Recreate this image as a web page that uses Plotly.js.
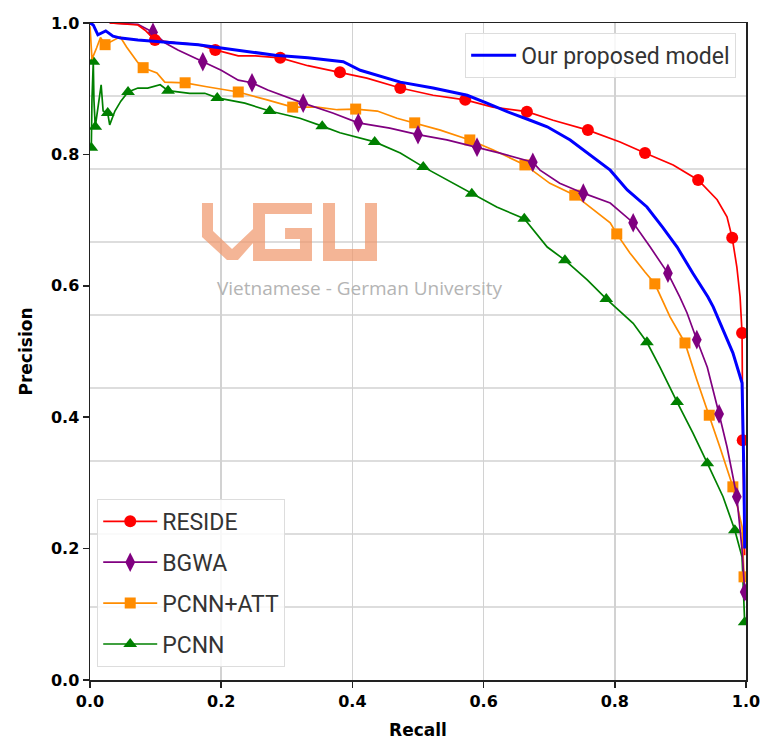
<!DOCTYPE html>
<html>
<head>
<meta charset="utf-8">
<script src="https://cdn.plot.ly/plotly-3.0.1.min.js"></script>
<style>html,body{margin:0;padding:0;background:#fff;}#chart{width:761px;height:740px;}</style>
</head>
<body>
<div id="chart"></div>
<script>
// ---------------- data ----------------
const tickVals = [0, 0.2, 0.4, 0.6, 0.8, 1.0];
const tickText = ["0.0", "0.2", "0.4", "0.6", "0.8", "1.0"];

// Our proposed model (blue, line only)
const oursRecall = [0,0.005,0.012,0.024,0.035,0.047,0.073,0.123,0.165,0.200,0.241,0.282,0.332,0.386,0.412,0.473,0.523,0.575,0.605,0.636,0.671,0.697,0.732,0.767,0.793,0.819,0.849,0.873,0.895,0.919,0.942,0.950,0.965,0.980,0.994,0.995,0.997,0.998];
const oursPrecision = [1.0,0.997,0.982,0.988,0.980,0.977,0.974,0.970,0.967,0.962,0.957,0.951,0.947,0.941,0.928,0.910,0.901,0.890,0.878,0.865,0.852,0.842,0.822,0.796,0.776,0.746,0.720,0.689,0.659,0.619,0.583,0.568,0.533,0.498,0.452,0.406,0.304,0.200];

// RESIDE (red, circles)
const resideRecall = [0.030,0.053,0.073,0.084,0.099,0.130,0.165,0.191,0.226,0.252,0.290,0.332,0.381,0.422,0.473,0.523,0.572,0.614,0.666,0.706,0.759,0.808,0.846,0.889,0.927,0.956,0.971,0.979,0.986,0.991,0.994,0.995,0.998];
const residePrecision = [1.0,0.998,0.997,0.989,0.974,0.970,0.967,0.959,0.950,0.950,0.947,0.935,0.925,0.916,0.901,0.890,0.883,0.872,0.865,0.852,0.837,0.819,0.802,0.784,0.761,0.731,0.705,0.673,0.629,0.583,0.528,0.365,0.190];
const resideMarkRecall = [0.099,0.191,0.290,0.381,0.473,0.572,0.666,0.759,0.846,0.927,0.979,0.994,0.995];
const resideMarkPrecision = [0.974,0.959,0.947,0.925,0.901,0.883,0.865,0.837,0.802,0.761,0.673,0.528,0.365];

// BGWA (purple, thin diamonds)
const bgwaRecall = [0.030,0.073,0.096,0.114,0.134,0.172,0.200,0.226,0.247,0.271,0.302,0.325,0.370,0.409,0.457,0.500,0.544,0.590,0.625,0.675,0.686,0.716,0.752,0.793,0.828,0.854,0.881,0.899,0.910,0.925,0.941,0.959,0.971,0.979,0.986,0.994,0.998];
const bgwaPrecision = [1.0,0.998,0.986,0.970,0.959,0.941,0.928,0.913,0.909,0.898,0.886,0.878,0.863,0.848,0.840,0.830,0.822,0.811,0.802,0.788,0.776,0.756,0.741,0.726,0.696,0.659,0.619,0.583,0.559,0.518,0.476,0.405,0.355,0.315,0.279,0.198,0.134];
const bgwaMarkRecall = [0.096,0.172,0.247,0.325,0.409,0.500,0.590,0.675,0.752,0.828,0.881,0.925,0.959,0.986,0.998];
const bgwaMarkPrecision = [0.986,0.941,0.909,0.878,0.848,0.830,0.811,0.788,0.741,0.696,0.619,0.518,0.405,0.279,0.134];

// PCNN+ATT (orange, squares)
const attRecall = [0.0,0.003,0.010,0.016,0.023,0.046,0.056,0.072,0.081,0.102,0.114,0.145,0.178,0.226,0.270,0.309,0.346,0.377,0.405,0.438,0.468,0.495,0.534,0.579,0.614,0.663,0.701,0.739,0.762,0.793,0.803,0.823,0.846,0.861,0.884,0.907,0.925,0.944,0.960,0.980,0.994,0.997];
const attPrecision = [0.995,0.945,0.962,0.978,0.967,0.979,0.963,0.941,0.932,0.924,0.910,0.909,0.903,0.895,0.883,0.872,0.872,0.868,0.869,0.866,0.855,0.848,0.837,0.822,0.807,0.784,0.756,0.738,0.720,0.696,0.679,0.650,0.621,0.603,0.553,0.513,0.457,0.403,0.355,0.294,0.233,0.157];
const attMarkRecall = [0.023,0.081,0.145,0.226,0.309,0.405,0.495,0.579,0.663,0.739,0.803,0.861,0.907,0.944,0.980,0.997];
const attMarkPrecision = [0.967,0.932,0.909,0.895,0.872,0.869,0.848,0.822,0.784,0.738,0.679,0.603,0.513,0.403,0.294,0.157];

// PCNN (green, triangles)
const pcnnRecall = [0.002,0.003,0.005,0.006,0.008,0.012,0.017,0.020,0.027,0.030,0.038,0.047,0.058,0.073,0.088,0.107,0.119,0.152,0.175,0.194,0.236,0.274,0.320,0.354,0.381,0.434,0.473,0.508,0.544,0.582,0.620,0.662,0.697,0.724,0.758,0.787,0.828,0.849,0.869,0.895,0.919,0.941,0.965,0.983,0.994,0.998];
const pcnnPrecision = [0.810,0.883,0.941,0.883,0.842,0.868,0.906,0.866,0.863,0.845,0.866,0.881,0.895,0.901,0.901,0.906,0.897,0.893,0.893,0.886,0.878,0.866,0.855,0.843,0.833,0.819,0.802,0.781,0.761,0.740,0.720,0.702,0.659,0.639,0.609,0.580,0.543,0.514,0.476,0.423,0.376,0.330,0.279,0.228,0.187,0.088];
const pcnnMarkRecall = [0.002,0.005,0.008,0.027,0.058,0.119,0.194,0.274,0.354,0.434,0.508,0.582,0.662,0.724,0.787,0.849,0.895,0.941,0.983,0.998];
const pcnnMarkPrecision = [0.810,0.941,0.842,0.863,0.895,0.897,0.886,0.866,0.843,0.819,0.781,0.740,0.702,0.639,0.580,0.514,0.423,0.330,0.228,0.088];

// ---------------- styling ----------------
const C = {ours:'#0000ff', reside:'#ff0000', bgwa:'#800080', att:'#ff8c00', pcnn:'#008000'};
const thin = 1.7;

function lineTrace(x, y, color, width) {
  return {x:x, y:y, type:'scatter', mode:'lines', line:{color:color, width:width}, showlegend:false, hoverinfo:'skip'};
}
function markTrace(x, y, color, symbol, size) {
  return {x:x, y:y, type:'scatter', mode:'markers', marker:{color:color, symbol:symbol, size:size, line:{width:0}}, showlegend:false, hoverinfo:'skip'};
}
function legendTrace(name, color, symbol, size, legend, group) {
  return {x:[null], y:[null], type:'scatter', mode:'lines+markers', name:name, legend:legend, legendgroup:group,
          line:{color:color, width:thin}, marker:{color:color, symbol:symbol, size:size}};
}

const traces = [
  lineTrace(pcnnRecall, pcnnPrecision, C.pcnn, thin),
  markTrace(pcnnMarkRecall, pcnnMarkPrecision, C.pcnn, 'triangle-up', 12),
  lineTrace(attRecall, attPrecision, C.att, thin),
  markTrace(attMarkRecall, attMarkPrecision, C.att, 'square', 11),
  lineTrace(bgwaRecall, bgwaPrecision, C.bgwa, thin),
  markTrace(bgwaMarkRecall, bgwaMarkPrecision, C.bgwa, 'diamond-tall', 14),
  lineTrace(resideRecall, residePrecision, C.reside, thin),
  markTrace(resideMarkRecall, resideMarkPrecision, C.reside, 'circle', 12),
  lineTrace(oursRecall, oursPrecision, C.ours, 3),
  {x:[null], y:[null], type:'scatter', mode:'lines', name:'Our proposed model', legend:'legend', line:{color:C.ours, width:3}},
  legendTrace('RESIDE', C.reside, 'circle', 12, 'legend2', 'g1'),
  legendTrace('BGWA', C.bgwa, 'diamond-tall', 14, 'legend2', 'g2'),
  legendTrace('PCNN+ATT', C.att, 'square', 11, 'legend2', 'g3'),
  legendTrace('PCNN', C.pcnn, 'triangle-up', 12, 'legend2', 'g4')
];

// plot-area pixel geometry (for the watermark only)
const L = 90, R = 746, T = 23, B = 680;
function px(pts) {
  return pts.map((p, i) => (i ? 'L' : 'M') + ((p[0]-L)/(R-L)).toFixed(4) + ',' + ((B-p[1])/(B-T)).toFixed(4)).join(' ') + ' Z';
}
const logoV = [[202,203],[213,203],[213,231],[232,249],[253,229],[253,243],[238,260],[227,260],[202,237]];
const logoG = [[253,203],[312,203],[312,214],[265,214],[265,249],[300,249],[300,239],[285,239],[285,228],[312,228],[312,261],[253,261]];
const logoU = [[323,203],[335,203],[335,249],[365,249],[365,203],[377,203],[377,261],[323,261]];

const shapes = [];
for (let k = 1; k <= 8; k++) {
  shapes.push({type:'line', xref:'paper', yref:'y', x0:0, x1:1, y0:k/9, y1:k/9, layer:'below', line:{color:'#d2d2d2', width:1.6}});
}
shapes.push({type:'path', xref:'paper', yref:'paper', path: px(logoV)+' '+px(logoG)+' '+px(logoU),
             fillcolor:'rgb(240,150,105)', opacity:0.7, line:{width:0}, layer:'above'});

const tickFont = {family:'DejaVu Sans', size:16, color:'#000', weight:'bold'};
const titleFont = {family:'DejaVu Sans', size:17, color:'#000', weight:'bold'};
const legFont = {family:'Roboto', size:23, color:'#333'};
const layout = {
  width:761, height:740,
  margin:{l:L, r:761-R, t:T, b:740-B, pad:0},
  paper_bgcolor:'#ffffff', plot_bgcolor:'#ffffff',
  showlegend:true,
  xaxis:{range:[0,1], tickvals:tickVals, ticktext:tickText, showgrid:true, gridcolor:'#d2d2d2', gridwidth:1.6,
         zeroline:false, showline:true, linecolor:'#222', linewidth:1.5, mirror:true,
         ticks:'outside', ticklen:6, tickwidth:1.5, tickcolor:'#222', tickfont:tickFont,
         title:{text:'Recall', font:titleFont, standoff:16}},
  yaxis:{range:[0,1], tickvals:tickVals, ticktext:tickText, showgrid:false,
         zeroline:false, showline:true, linecolor:'#222', linewidth:1.5, mirror:true,
         ticks:'outside', ticklen:6, tickwidth:1.5, tickcolor:'#222', tickfont:tickFont,
         title:{text:'Precision', font:titleFont, standoff:14}},
  legend:{x:0.985, y:0.985, xanchor:'right', yanchor:'top', bgcolor:'rgba(255,255,255,0.85)',
          bordercolor:'#dddddd', borderwidth:1, font:legFont, itemwidth:45},
  legend2:{x:0.011, y:0.02, xanchor:'left', yanchor:'bottom', bgcolor:'rgba(255,255,255,0.85)',
           bordercolor:'#dddddd', borderwidth:1, font:legFont, itemwidth:54,
           traceorder:'grouped', tracegroupgap:8},
  shapes:shapes,
  annotations:[{xref:'paper', yref:'paper', x:(360-L)/(R-L), y:(B-288)/(B-T), text:'Vietnamese - German University',
                showarrow:false, font:{family:'Open Sans', size:19, color:'#b4b4b4'}, xanchor:'center', yanchor:'middle'}]
};

Plotly.newPlot('chart', traces, layout, {displayModeBar:false, staticPlot:true});
</script>
</body>
</html>
